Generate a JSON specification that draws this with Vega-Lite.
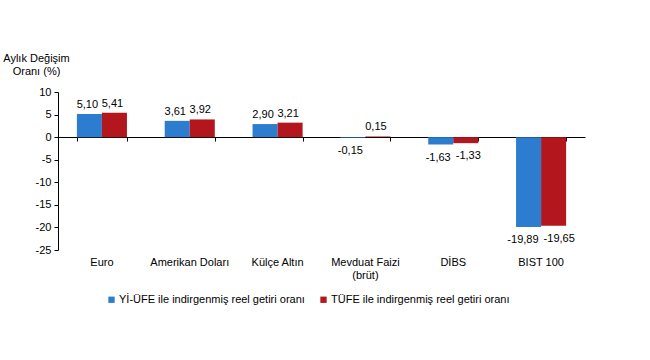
{
  "$schema": "https://vega.github.io/schema/vega-lite/v6.json",
  "autosize": "none",
  "width": 527,
  "height": 158,
  "padding": {"left": 58, "top": 92, "right": 65, "bottom": 110},
  "background": "white",
  "config": {
    "locale": {"number": {"decimal": ",", "thousands": ".", "grouping": [3], "currency": ["", " TL"], "minus": "-"}},
    "font": "Liberation Sans",
    "view": {"stroke": null},
    "axis": {"labelFont": "Liberation Sans", "titleFont": "Liberation Sans", "labelColor": "#000", "titleColor": "#000", "domainColor": "#000", "tickColor": "#000", "grid": false}
  },
  "data": {
    "values": [
      {"kategori": "Euro", "seri": "Yİ-ÜFE ile indirgenmiş reel getiri oranı", "deger": 5.10},
      {"kategori": "Euro", "seri": "TÜFE ile indirgenmiş reel getiri oranı", "deger": 5.41},
      {"kategori": "Amerikan Doları", "seri": "Yİ-ÜFE ile indirgenmiş reel getiri oranı", "deger": 3.61},
      {"kategori": "Amerikan Doları", "seri": "TÜFE ile indirgenmiş reel getiri oranı", "deger": 3.92},
      {"kategori": "Külçe Altın", "seri": "Yİ-ÜFE ile indirgenmiş reel getiri oranı", "deger": 2.90},
      {"kategori": "Külçe Altın", "seri": "TÜFE ile indirgenmiş reel getiri oranı", "deger": 3.21},
      {"kategori": "Mevduat Faizi (brüt)", "seri": "Yİ-ÜFE ile indirgenmiş reel getiri oranı", "deger": -0.15},
      {"kategori": "Mevduat Faizi (brüt)", "seri": "TÜFE ile indirgenmiş reel getiri oranı", "deger": 0.15},
      {"kategori": "DİBS", "seri": "Yİ-ÜFE ile indirgenmiş reel getiri oranı", "deger": -1.63},
      {"kategori": "DİBS", "seri": "TÜFE ile indirgenmiş reel getiri oranı", "deger": -1.33},
      {"kategori": "BIST 100", "seri": "Yİ-ÜFE ile indirgenmiş reel getiri oranı", "deger": -19.89},
      {"kategori": "BIST 100", "seri": "TÜFE ile indirgenmiş reel getiri oranı", "deger": -19.65}
    ]
  },
  "encoding": {
    "x": {
      "field": "kategori", "type": "nominal", "sort": null,
      "scale": {"paddingInner": 0.43, "paddingOuter": 0.215},
      "axis": null
    },
    "xOffset": {
      "field": "seri", "type": "nominal",
      "sort": ["Yİ-ÜFE ile indirgenmiş reel getiri oranı", "TÜFE ile indirgenmiş reel getiri oranı"],
      "scale": {"paddingInner": 0}
    },
    "y": {
      "field": "deger", "type": "quantitative",
      "scale": {"domain": [-25, 10], "nice": false, "zero": false},
      "axis": {
        "title": ["Aylık Değişim", "Oranı (%)"],
        "titleAngle": 0, "titleAlign": "center", "titleBaseline": "top",
        "titleX": -22, "titleY": -40, "titleFontSize": 11, "titleFontWeight": "normal",
        "titleLineHeight": 13,
        "values": [-25, -20, -15, -10, -5, 0, 5, 10],
        "tickCount": 8,
        "labelOverlap": false, "labelFlush": false,
        "labelFontSize": 11, "tickSize": 4, "labelPadding": 3, "format": "d"
      }
    }
  },
  "resolve": {"axis": {"x": "independent"}},
  "layer": [
    {
      "mark": {"type": "bar"},
      "encoding": {
        "x": {
          "field": "kategori", "type": "nominal", "sort": null,
          "axis": {
            "orient": "bottom",
            "title": null, "domain": false, "ticks": false, "labelAngle": 0,
            "labelFontSize": 11, "labelPadding": 6, "labelBaseline": "top",
            "labelExpr": "datum.label == 'Mevduat Faizi (brüt)' ? ['Mevduat Faizi', '(brüt)'] : datum.label",
            "labelLineHeight": 13
          }
        },
        "color": {
          "field": "seri", "type": "nominal",
          "sort": ["Yİ-ÜFE ile indirgenmiş reel getiri oranı", "TÜFE ile indirgenmiş reel getiri oranı"],
          "scale": {"range": ["#2C7DD0", "#B3171D"]},
          "legend": {
            "title": null, "orient": "none", "direction": "horizontal",
            "legendX": 48, "legendY": 202,
            "symbolType": "square", "symbolSize": 40, "symbolStrokeWidth": 0,
            "labelFontSize": 11, "labelFont": "Liberation Sans", "labelColor": "#000",
            "columnPadding": 13, "labelLimit": 300, "symbolOffset": 0, "labelOffset": 2
          }
        }
      }
    },
    {
      "mark": {"type": "rule", "opacity": 0},
      "encoding": {
        "x": {
          "field": "kategori", "type": "nominal", "sort": null,
          "axis": {
            "orient": "bottom",
            "title": null, "labels": false, "domain": true, "ticks": true,
            "tickBand": "extent", "tickSize": 4, "offset": -113, "domainWidth": 1.2
          }
        }
      }
    },
    {
      "transform": [{"filter": "datum.deger >= 0"}],
      "mark": {"type": "text", "baseline": "bottom", "dy": -4, "dx": -2, "fontSize": 11, "font": "Liberation Sans", "color": "#000"},
      "encoding": {
        "x": {"field": "kategori", "type": "nominal", "sort": null, "axis": null},
        "text": {"field": "deger", "type": "quantitative", "format": ".2f"}
      }
    },
    {
      "transform": [{"filter": "datum.deger < 0 && datum.seri == 'Yİ-ÜFE ile indirgenmiş reel getiri oranı'"}],
      "mark": {"type": "text", "baseline": "top", "align": "right", "dy": 7, "dx": 10, "fontSize": 11, "font": "Liberation Sans", "color": "#000"},
      "encoding": {
        "x": {"field": "kategori", "type": "nominal", "sort": null, "axis": null},
        "text": {"field": "deger", "type": "quantitative", "format": ".2f"}
      }
    },
    {
      "transform": [{"filter": "datum.deger < 0 && datum.seri == 'TÜFE ile indirgenmiş reel getiri oranı'"}],
      "mark": {"type": "text", "baseline": "top", "align": "left", "dy": 7, "dx": -10, "fontSize": 11, "font": "Liberation Sans", "color": "#000"},
      "encoding": {
        "x": {"field": "kategori", "type": "nominal", "sort": null, "axis": null},
        "text": {"field": "deger", "type": "quantitative", "format": ".2f"}
      }
    }
  ]
}
